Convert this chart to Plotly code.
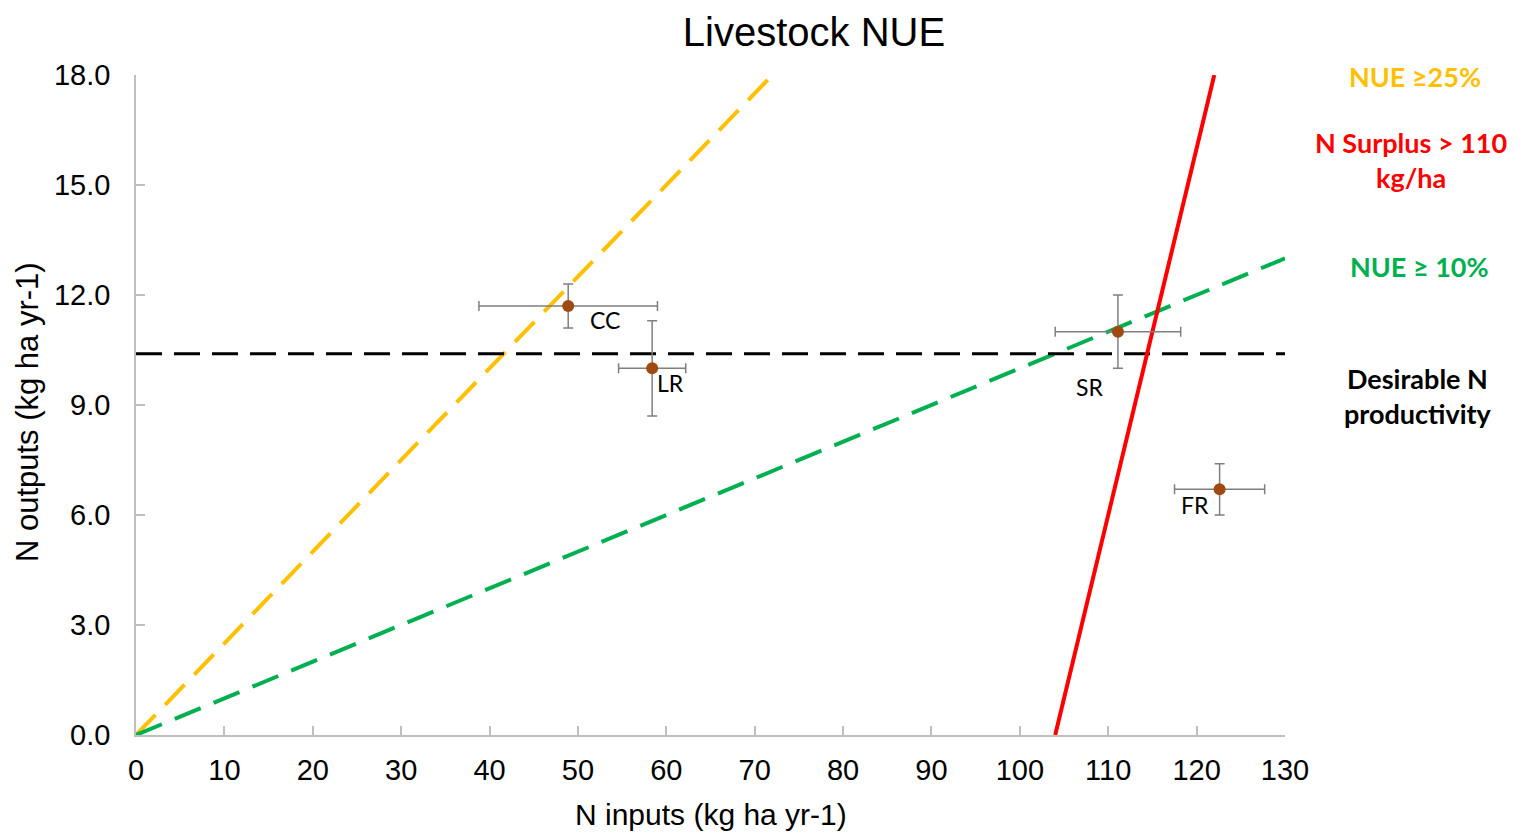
import plotly.graph_objects as go

# farm types, mean N inputs / outputs and their error bars (kg ha yr-1)
farm_names = ["CC", "LR", "SR", "FR"]
n_inputs = [48.9, 58.4, 111.1, 122.6]
n_outputs = [11.7, 10.0, 11.0, 6.7]
inputs_err = [10.1, 3.8, 7.1, 5.1]
outputs_err = [0.6, 1.3, 1.0, 0.7]

# threshold lines
nue25_x = [0, 72]
nue25_y = [0, 18]
nue10_x = [0, 130]
nue10_y = [0, 13]
surplus_x = [104, 122]
surplus_y = [0, 18]
desirable_x = [0, 130]
desirable_y = [10.4, 10.4]

fig = go.Figure()

fig.add_trace(go.Scatter(x=nue25_x, y=nue25_y, mode="lines",
                         line=dict(color="#FFC000", width=4, dash="28px,14px")))
fig.add_trace(go.Scatter(x=nue10_x, y=nue10_y, mode="lines",
                         line=dict(color="#00B050", width=4, dash="28px,14px")))
fig.add_trace(go.Scatter(x=desirable_x, y=desirable_y, mode="lines",
                         line=dict(color="black", width=3, dash="26px,12px")))
fig.add_trace(go.Scatter(x=surplus_x, y=surplus_y, mode="lines",
                         line=dict(color="#FF0000", width=4)))

fig.add_trace(go.Scatter(
    x=n_inputs, y=n_outputs, mode="markers",
    marker=dict(color="#9E4A10", size=12),
    error_x=dict(type="data", array=inputs_err, color="#7F7F7F", thickness=1.5, width=5),
    error_y=dict(type="data", array=outputs_err, color="#7F7F7F", thickness=1.5, width=5),
))

# point labels, nudged like the original
shifts = [(37, -14), (18, -15), (-28, -55), (-25, -16)]
for name, xv, yv, (dx, dy) in zip(farm_names, n_inputs, n_outputs, shifts):
    fig.add_annotation(x=xv, y=yv, text=name, showarrow=False, xshift=dx, yshift=dy,
                       font=dict(family="Lato", size=23, color="black"))

# legend-like texts on the right
side_texts = [
    ("NUE ≥25%", "#FFC000", 1.113, 0.997),
    ("N Surplus > 110<br>kg/ha", "#FF0000", 1.110, 0.871),
    ("NUE ≥ 10%", "#00B050", 1.117, 0.710),
    ("Desirable N<br>productivity", "black", 1.116, 0.513),
]
for txt, col, px_, py_ in side_texts:
    fig.add_annotation(x=px_, y=py_, xref="paper", yref="paper", text="<b>" + txt + "</b>",
                       xanchor="center", yanchor="middle", showarrow=False,
                       font=dict(family="Lato", size=27, color=col))

# axis titles as free text so the plot area stays put
fig.add_annotation(x=0.5, y=-0.121, xref="paper", yref="paper", text="N inputs (kg ha yr-1)",
                   xanchor="center", yanchor="middle", showarrow=False,
                   font=dict(family="Liberation Sans", size=30, color="black"))
fig.add_annotation(x=-0.095, y=0.489, xref="paper", yref="paper", text="N outputs (kg ha yr-1)",
                   textangle=-90, xanchor="center", yanchor="middle", showarrow=False,
                   font=dict(family="Liberation Sans", size=31, color="black"))

fig.update_layout(
    width=1515, height=823,
    margin=dict(l=128, r=238, t=67, b=96),
    paper_bgcolor="white", plot_bgcolor="white",
    showlegend=False,
    title=dict(text="Livestock NUE", x=0.532, xanchor="center", y=0.971, yanchor="middle",
               font=dict(family="Liberation Sans", size=40, color="black")),
    font=dict(family="Liberation Sans", color="black"),
)
fig.update_xaxes(
    range=[0, 130], dtick=10, showgrid=False, zeroline=False, automargin=False,
    showline=True, linecolor="#BFBFBF", linewidth=1.5,
    ticks="inside", ticklen=9, tickcolor="#BFBFBF", tickwidth=1.5,
    tickfont=dict(size=29), ticklabelstandoff=8,
)
fig.update_yaxes(
    range=[0, 18], dtick=3, tickformat=".1f", showgrid=False, zeroline=False, automargin=False,
    showline=True, linecolor="#BFBFBF", linewidth=1.5,
    ticks="inside", ticklen=9, tickcolor="#BFBFBF", tickwidth=1.5,
    tickfont=dict(size=29), ticklabelstandoff=18,
)

fig.write_html("out.html")
